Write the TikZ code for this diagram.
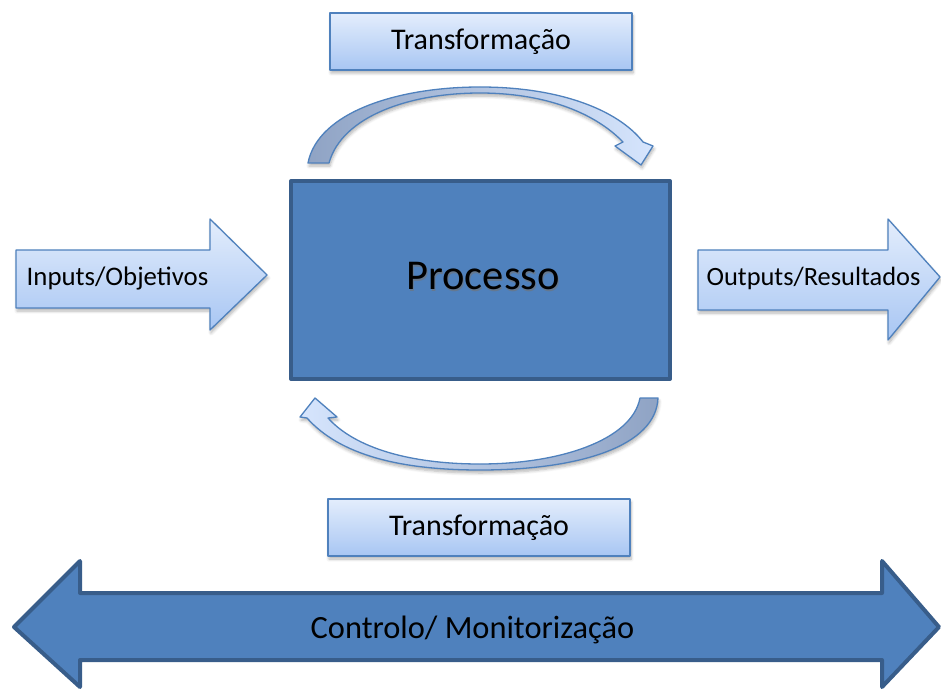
\documentclass[tikz,border=0pt]{standalone}
\usepackage{fontspec}
\setmainfont{Carlito}
\usetikzlibrary{shadows.blur}
\definecolor{procfill}{HTML}{4F81BD}
\definecolor{procline}{HTML}{385D8A}
\definecolor{lighttop}{HTML}{E3EDFC}
\definecolor{lightbot}{HTML}{A8C6F3}
\definecolor{lightline}{HTML}{4F81BD}
\definecolor{curvedark}{HTML}{8FA3C4}
\definecolor{curvelight}{HTML}{D6E5FD}
\begin{document}
\begin{tikzpicture}[x=1pt,y=-1pt,
  lightshape/.style={draw=lightline, line width=1.3pt, top color=lighttop,
    bottom color=lightbot, line join=round},
  softshadow/.style={blur shadow={shadow xshift=1pt, shadow yshift=-3pt,
    shadow blur steps=6, shadow opacity=30, shadow blur radius=3pt}},
  darkshape/.style={draw=procline, line width=4pt, fill=procfill, line join=round},
  lbl/.style={inner sep=0pt, text=black, anchor=base},
  tbox/.style={lightshape, softshadow, inner sep=0pt, minimum width=302pt,
    minimum height=57pt},
  tfont/.style={font=\fontsize{30}{34}\selectfont},
  sidefont/.style={font=\fontsize{26.8}{30}\selectfont}
]
\useasboundingbox (0,0) rectangle (941,692);

% transformation boxes and their labels
\node[tbox] (ttop) at (481,41.5) {};
\node[lbl, tfont] (ttoptext) at ([shift={(0,8.5)}]ttop.center) {Transformação};
\node[tbox] (tbot) at (479,527.5) {};
\node[lbl, tfont] (tbottext) at ([shift={(0,7.5)}]tbot.center) {Transformação};

% central process block
\node[darkshape, minimum width=379pt, minimum height=198pt, inner sep=0pt] (proc) at (480.5,280) {};
\node[lbl, text=black!55, opacity=0.6, font=\fontsize{42.5}{46}\selectfont] (procshadow) at ([shift={(3.5,11.5)}]proc.center) {Processo};
\node[lbl, font=\fontsize{42.5}{46}\selectfont] (proctext) at ([shift={(2.5,10)}]proc.center) {Processo};

% input arrow
\draw[lightshape, softshadow] (16,250) -- (210,250) -- (210,219) -- (267,275)
  -- (210,330) -- (210,308) -- (16,308) -- cycle;
\node[lbl, sidefont] (inp) at (117.5,285) {Inputs/Objetivos};

% output arrow
\draw[lightshape, softshadow] (698,250) -- (888,250) -- (888,219) -- (940,277)
  -- (888,340) -- (888,310) -- (698,310) -- cycle;
\node[lbl, font=\fontsize{26.4}{30}\selectfont] (outp) at (813.5,285) {Outputs/Resultados};

% upper curved arrow
\draw[draw=lightline, line width=1.3pt, left color=curvedark, right color=curvelight,
  line join=round, softshadow]
  (308,163) .. controls (318,112) and (398,87) .. (480,87)
  .. controls (560,87) and (618,110) .. (643,142)
  -- (653,146) -- (641,165) -- (615,146) -- (623,142)
  .. controls (592,110) and (540,93) .. (480,93)
  .. controls (410,93) and (342,116) .. (329,163) -- cycle;

% lower curved arrow
\draw[draw=lightline, line width=1.3pt, left color=curvelight, right color=curvedark,
  line join=round, softshadow]
  (640,398) .. controls (632,440) and (560,464) .. (480,464)
  .. controls (410,464) and (355,448) .. (328,418)
  -- (337,417) -- (315,398) -- (300,417) -- (307,418)
  .. controls (340,455) and (400,470) .. (480,470)
  .. controls (580,470) and (656,446) .. (658,398) -- cycle;

% control / monitoring double arrow
\draw[darkshape] (14,627) -- (80,561) -- (80,593) -- (882,593) -- (882,561)
  -- (939,627) -- (882,687) -- (882,660) -- (80,660) -- (80,687) -- cycle;
\node[lbl, font=\fontsize{32.4}{36}\selectfont] (ctrl) at (472.5,638) {Controlo/ Monitorização};
\end{tikzpicture}
\end{document}
